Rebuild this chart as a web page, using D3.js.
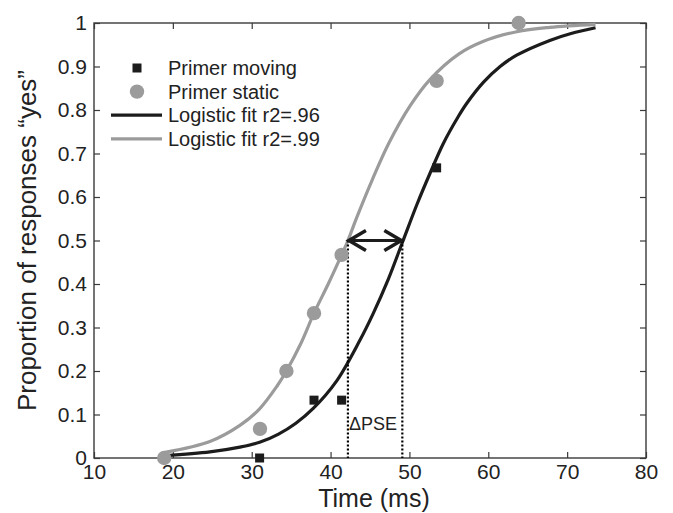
<!DOCTYPE html>
<html>
<head>
<meta charset="utf-8">
<script src="https://cdn.jsdelivr.net/npm/d3@7"></script>
<style>
  body { margin: 0; background: #fff; }
  text { font-family: "Liberation Sans", Arial, sans-serif; fill: #222; }
</style>
</head>
<body>
<script>
// data
var movingX = [31, 37.9, 41.4, 53.45];
var movingY = [0, 0.133, 0.133, 0.667];
var staticX = [18.9, 31.05, 34.4, 37.9, 41.4, 53.45, 63.85];
var staticY = [0, 0.067, 0.2, 0.333, 0.467, 0.867, 1];

// fitted curves, sampled from the figure
var fitMovingX = [19, 24.7, 28.5, 31, 33.4, 35.6, 37.8, 40.8, 43.7, 45.4, 47.3, 49.2, 51, 52.6, 54.3, 56.2, 57.3, 59.4, 61.5, 63.6, 67.8, 70.5, 73.6];
var fitMovingY = [0.005, 0.014, 0.025, 0.036, 0.055, 0.08, 0.114, 0.178, 0.27, 0.332, 0.41, 0.5, 0.585, 0.654, 0.723, 0.785, 0.816, 0.864, 0.9, 0.926, 0.96, 0.976, 0.989];
var fitStaticX = [19, 24.7, 28.5, 31, 33.2, 34.4, 36.2, 37.9, 39.7, 41.4, 42.2, 43.3, 45.3, 47.4, 50.1, 52.6, 56.2, 59.4, 63.6, 67.8, 73.6];
var fitStaticY = [0.013, 0.038, 0.075, 0.113, 0.165, 0.2, 0.262, 0.333, 0.4, 0.467, 0.5, 0.552, 0.64, 0.724, 0.81, 0.87, 0.928, 0.958, 0.98, 0.99, 0.997];

var pseStatic = 42.2;
var pseMoving = 49.1;

var xTicks = [10, 20, 30, 40, 50, 60, 70, 80];
var yTicks = [0, 0.1, 0.2, 0.3, 0.4, 0.5, 0.6, 0.7, 0.8, 0.9, 1];

var legendLabels = ["Primer moving", "Primer static", "Logistic fit r2=.96", "Logistic fit r2=.99"];

var width = 673, height = 513;
var plotLeft = 94, plotRight = 646, plotTop = 23, plotBottom = 458;
var black = "#1c1c1c", gray = "#9b9b9b", axisColor = "#3a3a3a";

var svg = d3.select("body").append("svg")
  .attr("width", width)
  .attr("height", height);

var x = d3.scaleLinear().domain([10, 80]).range([plotLeft, plotRight]);
var y = d3.scaleLinear().domain([0, 1]).range([plotBottom, plotTop]);

// axes box, ticks inside
var tickLen = 6;
svg.append("g")
  .attr("transform", "translate(0," + plotBottom + ")")
  .call(d3.axisBottom(x).tickValues(xTicks).tickSizeInner(-tickLen).tickSizeOuter(0).tickPadding(5))
  .call(function(g) { g.selectAll("text").attr("font-size", 21).attr("dy", "0.75em"); });
svg.append("g")
  .attr("transform", "translate(0," + plotTop + ")")
  .call(d3.axisTop(x).tickValues(xTicks).tickSizeInner(-tickLen).tickSizeOuter(0).tickFormat(""));
svg.append("g")
  .attr("transform", "translate(" + plotLeft + ",0)")
  .call(d3.axisLeft(y).tickValues(yTicks).tickSizeInner(-tickLen).tickSizeOuter(0).tickPadding(7).tickFormat(function(d) { return d3.format("")(+d.toFixed(1)); }))
  .call(function(g) { g.selectAll("text").attr("font-size", 21); });
svg.append("g")
  .attr("transform", "translate(" + plotRight + ",0)")
  .call(d3.axisRight(y).tickValues(yTicks).tickSizeInner(-tickLen).tickSizeOuter(0).tickFormat(""));

svg.selectAll(".domain").remove();
svg.selectAll(".tick line").attr("stroke", axisColor).attr("stroke-width", 1.2);
svg.selectAll(".tick text").attr("fill", "#222").attr("font-family", "Liberation Sans, Arial, sans-serif");

svg.append("rect")
  .attr("x", plotLeft).attr("y", plotTop)
  .attr("width", plotRight - plotLeft).attr("height", plotBottom - plotTop)
  .attr("fill", "none").attr("stroke", axisColor).attr("stroke-width", 1.4);

// axis labels
svg.append("text")
  .attr("x", (plotLeft + plotRight) / 2 + 4).attr("y", 507)
  .attr("text-anchor", "middle").attr("font-size", 25)
  .text("Time (ms)");
svg.append("text")
  .attr("transform", "translate(36," + (plotTop + plotBottom) / 2 + ") rotate(-90)")
  .attr("text-anchor", "middle").attr("font-size", 26)
  .text("Proportion of responses \u201cyes\u201d");

// fit lines
var line = d3.line().curve(d3.curveCatmullRom.alpha(0.5))
  .x(function(d) { return x(d[0]); })
  .y(function(d) { return y(d[1]); });

svg.append("path")
  .datum(d3.zip(fitStaticX, fitStaticY))
  .attr("d", line)
  .attr("fill", "none").attr("stroke", gray).attr("stroke-width", 3.2);
svg.append("path")
  .datum(d3.zip(fitMovingX, fitMovingY))
  .attr("d", line)
  .attr("fill", "none").attr("stroke", black).attr("stroke-width", 3.2);

// PSE dotted lines
[pseStatic, pseMoving].forEach(function(p) {
  svg.append("line")
    .attr("x1", x(p)).attr("x2", x(p))
    .attr("y1", y(0.5)).attr("y2", y(0))
    .attr("stroke", "#000").attr("stroke-width", 2.2)
    .attr("stroke-dasharray", "2,2");
});

// markers
svg.selectAll(".static")
  .data(d3.zip(staticX, staticY))
  .enter().append("circle")
  .attr("class", "static")
  .attr("cx", function(d) { return x(d[0]); })
  .attr("cy", function(d) { return y(d[1]); })
  .attr("r", 7.2)
  .attr("fill", gray);

var sq = 9;
svg.selectAll(".moving")
  .data(d3.zip(movingX, movingY))
  .enter().append("rect")
  .attr("class", "moving")
  .attr("x", function(d) { return x(d[0]) - sq / 2; })
  .attr("y", function(d) { return y(d[1]) - sq / 2; })
  .attr("width", sq).attr("height", sq)
  .attr("fill", black);

// double arrow between the PSEs
var ay = y(0.5), ax1 = x(pseStatic), ax2 = x(pseMoving);
svg.append("line")
  .attr("x1", ax1 + 1).attr("x2", ax2 - 1)
  .attr("y1", ay).attr("y2", ay)
  .attr("stroke", black).attr("stroke-width", 3.2);
svg.append("path")
  .attr("d", "M" + (ax1 + 18) + "," + (ay - 10) + "L" + (ax1 + 1) + "," + ay + "L" + (ax1 + 18) + "," + (ay + 10))
  .attr("fill", "none").attr("stroke", black).attr("stroke-width", 3.5);
svg.append("path")
  .attr("d", "M" + (ax2 - 18) + "," + (ay - 10) + "L" + (ax2 - 1) + "," + ay + "L" + (ax2 - 18) + "," + (ay + 10))
  .attr("fill", "none").attr("stroke", black).attr("stroke-width", 3.5);

svg.append("text")
  .attr("x", x(pseStatic) + 1).attr("y", 430)
  .attr("font-size", 18)
  .text("\u0394PSE");

// legend
var lg = svg.append("g");
var lx = 137, ly = 68, step = 23.6;
lg.append("rect")
  .attr("x", lx - sq / 2).attr("y", ly - sq / 2)
  .attr("width", sq).attr("height", sq).attr("fill", black);
lg.append("circle")
  .attr("cx", lx).attr("cy", ly + step).attr("r", 7.2).attr("fill", gray);
lg.append("line")
  .attr("x1", 111).attr("x2", 162).attr("y1", ly + step * 2).attr("y2", ly + step * 2)
  .attr("stroke", black).attr("stroke-width", 3.2);
lg.append("line")
  .attr("x1", 111).attr("x2", 162).attr("y1", ly + step * 3).attr("y2", ly + step * 3)
  .attr("stroke", gray).attr("stroke-width", 3.2);
lg.selectAll("text")
  .data(legendLabels)
  .enter().append("text")
  .attr("x", 168)
  .attr("y", function(d, i) { return ly + step * i; })
  .attr("dy", "0.36em")
  .attr("font-size", 20)
  .text(function(d) { return d; });
</script>
</body>
</html>
